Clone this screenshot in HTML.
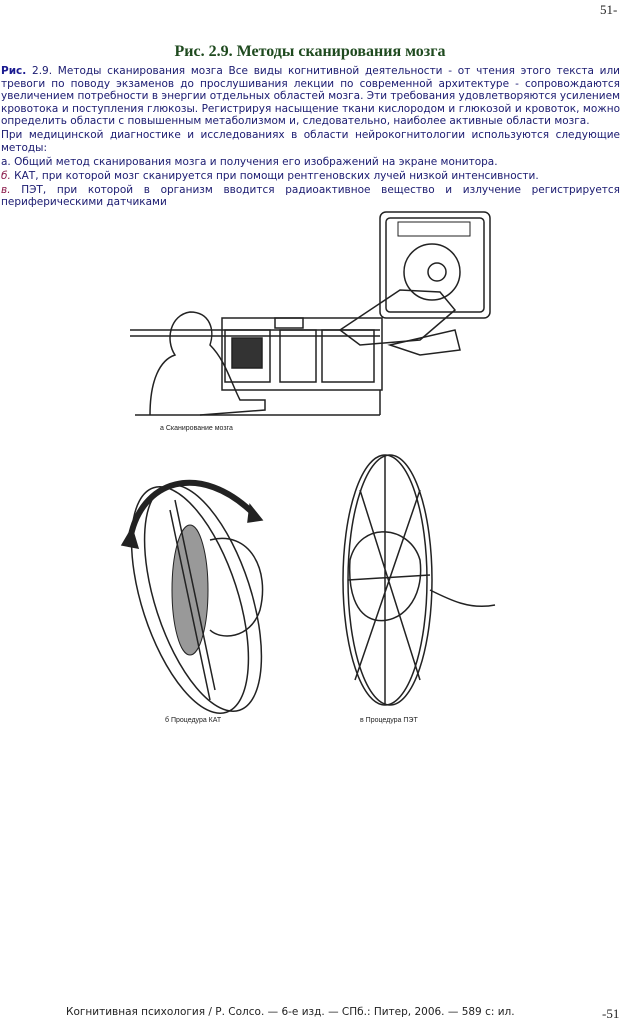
<!DOCTYPE html>
<html><head><meta charset="utf-8"><style>
body{margin:0;width:620px;height:1022px;background:#fff;position:relative;overflow:hidden;font-family:"DejaVu Sans","Liberation Sans",sans-serif}
.pn{position:absolute;font-family:"Liberation Serif",serif;font-size:13px;color:#222}
h1{position:absolute;top:43px;left:0;width:620px;text-align:center;margin:0;font-family:"Liberation Serif",serif;font-size:16px;font-weight:bold;color:#1f4a1f}
.txt{position:absolute;top:65px;left:1px;width:619px;font-size:10.5px;line-height:12.5px;color:#1a1a70;text-align:justify}
.txt p{margin:0 0 1.5px 0}
.r{color:#8b1a4a;font-style:italic}
.foot{position:absolute;top:1006px;left:66px;font-size:10.5px;color:#222}
</style></head><body>
<div class="pn" style="top:2px;left:600px">51-</div>
<h1>Рис. 2.9. Методы сканирования мозга</h1>
<div class="txt">
<p><b style="color:#1a1a90">Рис.</b> 2.9. Методы сканирования мозга Все виды когнитивной деятельности - от чтения этого текста или тревоги по поводу экзаменов до прослушивания лекции по современной архитектуре - сопровождаются увеличением потребности в энергии отдельных областей мозга. Эти требования удовлетворяются усилением кровотока и поступления глюкозы. Регистрируя насыщение ткани кислородом и глюкозой и кровоток, можно определить области с повышенным метаболизмом и, следовательно, наиболее активные области мозга.</p>
<p>При медицинской диагностике и исследованиях в области нейрокогнитологии используются следующие методы:</p>
<p>а. Общий метод сканирования мозга и получения его изображений на экране монитора.</p>
<p><span class="r">б.</span> КАТ, при которой мозг сканируется при помощи рентгеновских лучей низкой интенсивности.</p>
<p><span class="r">в.</span> ПЭТ, при которой в организм вводится радиоактивное вещество и излучение регистрируется периферическими датчиками</p>
</div>
<svg style="position:absolute;left:0;top:0" width="620" height="1022" fill="none" stroke="#222" stroke-width="1.5">
<rect x="380" y="212" width="110" height="106" rx="6"/>
<rect x="386" y="218" width="98" height="94" rx="4"/>
<rect x="398" y="222" width="72" height="14" stroke-width="1"/>
<circle cx="432" cy="272" r="28"/>
<path d="M340 330 L400 290 L440 292 L455 310 L420 340 L360 345 Z"/>
<circle cx="437" cy="272" r="9"/>
<path d="M390 345 L455 330 L460 350 L420 355 Z"/>
<path d="M130 330 L380 330 M130 336 L380 336"/>
<rect x="222" y="318" width="160" height="72"/>
<rect x="225" y="330" width="45" height="52"/>
<rect x="232" y="338" width="30" height="30" fill="#333"/>
<rect x="280" y="330" width="36" height="52"/>
<rect x="322" y="330" width="52" height="52"/>
<rect x="275" y="318" width="28" height="10"/>
<path d="M135 415 L380 415 M380 390 L380 415"/>
<path d="M150 415 C150 380 160 360 175 355 C165 340 170 315 190 312 C210 312 215 330 210 345 C225 360 230 380 240 400 L265 400 L265 410 L200 415"/>
<text x="160" y="430" font-size="7" stroke="none" fill="#222" font-family="Liberation Sans">а  Сканирование мозга</text>
<ellipse cx="190" cy="600" rx="48" ry="118" transform="rotate(-18 190 600)"/>
<ellipse cx="203" cy="598" rx="48" ry="118" transform="rotate(-18 203 598)"/>
<path d="M130 540 C140 480 200 460 255 515" stroke-width="6"/>
<path d="M122 545 L132 528 L138 548 Z M250 505 L262 520 L248 522 Z" fill="#222"/>
<ellipse cx="190" cy="590" rx="18" ry="65" fill="#999" stroke-width="1"/>
<path d="M210 540 C250 530 270 570 260 610 C250 640 220 640 210 630"/>
<path d="M175 500 L215 690 M170 510 L210 700"/>
<text x="165" y="722" font-size="7" stroke="none" fill="#222" font-family="Liberation Sans">б  Процедура КАТ</text>
<ellipse cx="385" cy="580" rx="42" ry="125"/>
<ellipse cx="390" cy="580" rx="42" ry="125"/>
<path d="M350 560 C360 520 410 525 420 560 C425 600 400 625 375 620 C355 615 348 590 350 560 Z"/>
<path d="M360 490 L420 680 M420 490 L355 680 M348 580 L430 575 M385 455 L385 705"/>
<path d="M430 590 C450 600 470 610 495 605"/>
<text x="360" y="722" font-size="7" stroke="none" fill="#222" font-family="Liberation Sans">в  Процедура ПЭТ</text>
</svg>
<div class="foot">Когнитивная психология / Р. Солсо. — 6-е изд. — СПб.: Питер, 2006. — 589 с: ил.</div>
<div class="pn" style="top:1006px;left:602px">-51</div>
</body></html>
